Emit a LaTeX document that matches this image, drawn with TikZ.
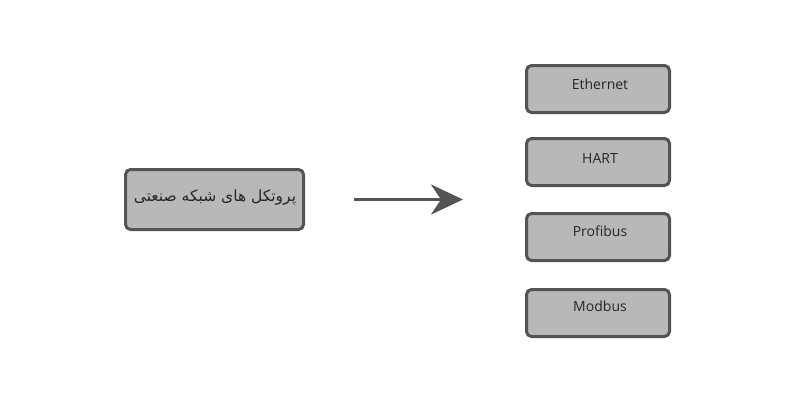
\documentclass[tikz,border=0pt]{standalone}
\usepackage{fontspec}
\setmainfont{Open Sans}
\newfontfamily\arabicfont[Script=Arabic]{DejaVu Sans}
\TeXXeTstate=1
\usetikzlibrary{arrows.meta}
\tikzset{
  box/.style={draw=black!67, line width=3pt, fill=black!28, rounded corners=5pt, inner sep=0pt},
  lbl/.style={font=\fontsize{14}{16}\selectfont, text=black!85},
  conn/.style={draw=black!67, line width=3.4pt, -{Stealth[length=32pt,width=30pt,inset=10pt]}}
}
\begin{document}
\begin{tikzpicture}[x=1pt,y=-1pt]
\useasboundingbox (0,0) rectangle (800,400);
\node[box, minimum width=178pt, minimum height=60pt] (src) at (214.5,199.5) {};
\node[lbl, font=\arabicfont\fontsize{15.5}{17}\selectfont] at (215,197) {\beginR پروتکل های شبکه صنعتی\endR};
\node[box, minimum width=143pt, minimum height=47pt] (e) at (598,89) {};
\node[box, minimum width=143pt, minimum height=47pt] (h) at (598,162) {};
\node[box, minimum width=143pt, minimum height=47pt] (p) at (598,237) {};
\node[box, minimum width=143pt, minimum height=47pt] (m) at (598,313) {};
\node[lbl] at (600,84.5) {Ethernet};
\node[lbl] at (600,158) {HART};
\node[lbl] at (600,231.5) {Profibus};
\node[lbl] at (600,306) {Modbus};
\coordinate (a0) at (354,199.5);
\coordinate (a1) at (463,199.5);
\draw[conn] (a0) -- (a1);
\end{tikzpicture}
\end{document}
